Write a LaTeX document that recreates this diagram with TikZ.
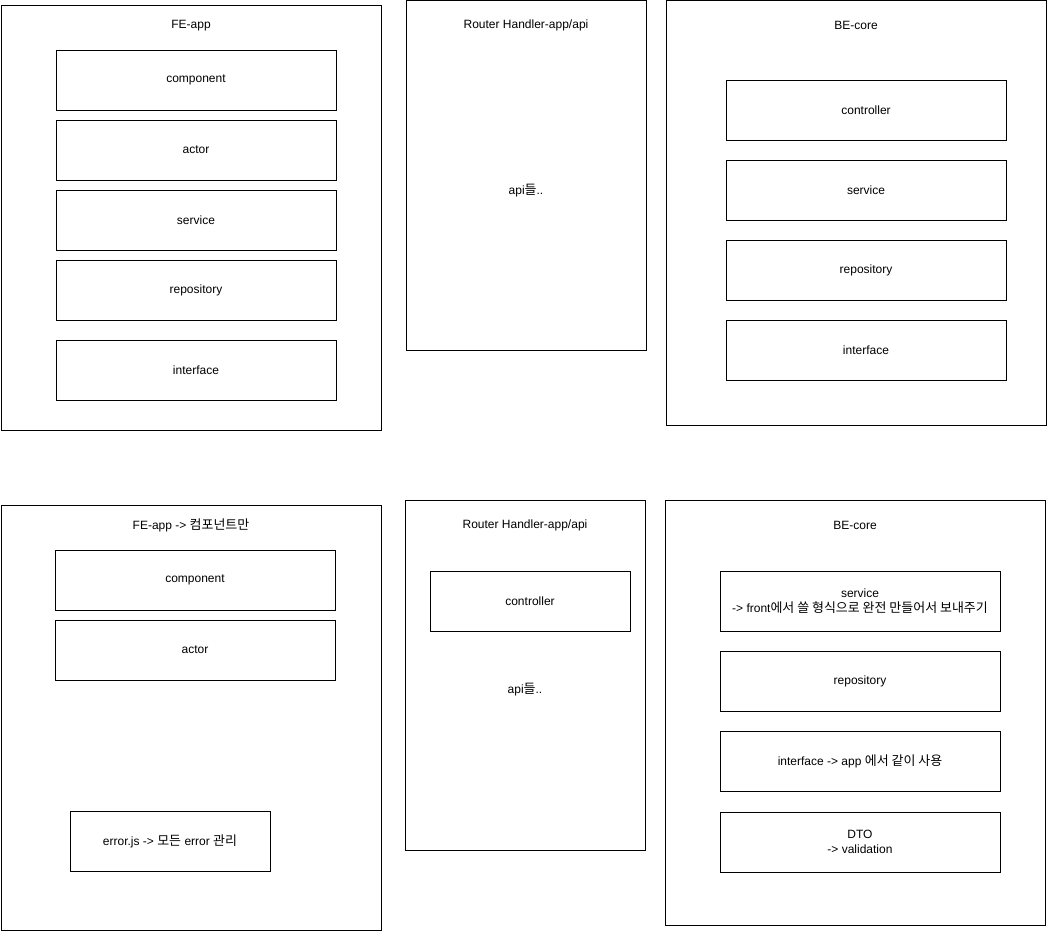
\documentclass[tikz,border=0pt]{standalone}
\usepackage{fontspec}
\setmainfont{Liberation Sans}
\newfontfamily\krfont[Scale=1.08]{Noto Sans CJK KR}
\newcommand{\kr}[1]{{\krfont #1}}
\usetikzlibrary{positioning}
\tikzset{
    %Define style for outer groups
    groupbox/.style={
             draw=black, line width=0.75pt,
             minimum width=285pt, minimum height=318.75pt,
             inner sep=0pt, outer sep=0pt,
             anchor=north west},
    routerbox/.style={
             groupbox,
             minimum width=180pt, minimum height=262.5pt},
    %Define style for layer boxes
    layerbox/.style={
             draw=black, line width=0.75pt,
             minimum width=210pt, minimum height=45pt,
             inner sep=0pt, outer sep=0pt,
             align=center,
             font=\fontsize{9}{11.25}\selectfont},
    smallbox/.style={
             layerbox,
             minimum width=150pt},
    % Define style for titles
    grouptitle/.style={
             inner sep=0pt,
             font=\fontsize{9}{11.25}\selectfont}
}

\begin{document}
\begin{tikzpicture}[x=0.75pt, y=-0.75pt]
    \useasboundingbox (0,0) rectangle (1047,932);
    % top row
    \node[groupbox] (fe) at (1,5) {};
    \node[grouptitle] (fetitle) at (191,26) {FE-app};
    \node[layerbox] (fecomp) at (196,80) {component};
    \node[layerbox, below=7.5pt of fecomp] (feactor) {actor};
    \node[layerbox, below=7.5pt of feactor] (feservice) {service};
    \node[layerbox, below=7.5pt of feservice] (ferepo) {repository};
    \node[layerbox, below=15pt of ferepo] (feiface) {interface};

    \node[routerbox] (router) at (406,0) {};
    \node[grouptitle] (routertitle) at (526,25) {Router Handler-app/api};
    \node[grouptitle] (routerapi) at (526,191) {api\kr{들}..};

    \node[groupbox] (be) at (666,0) {};
    \node[grouptitle] (betitle) at (856,25) {BE-core};
    \node[layerbox] (bectrl) at (866,110) {controller};
    \node[layerbox, below=15pt of bectrl] (beservice) {service};
    \node[layerbox, below=15pt of beservice] (berepo) {repository};
    \node[layerbox, below=15pt of berepo] (beiface) {interface};

    % bottom row
    \node[groupbox] (fenew) at (1,505) {};
    \node[grouptitle] (fenewtitle) at (191,525) {FE-app -> \kr{컴포넌트만}};
    \node[layerbox] (fenewcomp) at (195,580) {component};
    \node[layerbox, below=7.5pt of fenewcomp] (fenewactor) {actor};
    \node[smallbox] (fenewerror) at (170,841) {error.js -> \kr{모든} error \kr{관리}};

    \node[routerbox] (routernew) at (405,500) {};
    \node[grouptitle] (routernewtitle) at (525,525) {Router Handler-app/api};
    \node[smallbox] (routernewctrl) at (530,601) {controller};
    \node[grouptitle] (routernewapi) at (525,690) {api\kr{들}..};

    \node[groupbox] (benew) at (665,500) {};
    \node[grouptitle] (benewtitle) at (855,525) {BE-core};
    \node[layerbox] (benewservice) at (860,601) {service\\-> front\kr{에서 쓸 형식으로 완전 만들어서 보내주기}};
    \node[layerbox, below=15pt of benewservice] (benewrepo) {repository};
    \node[layerbox, below=15pt of benewrepo] (benewiface) {interface -> app \kr{에서 같이 사용}};
    \node[layerbox, below=15.75pt of benewiface] (benewdto) {DTO\\-> validation};
  \end{tikzpicture}
\end{document}
